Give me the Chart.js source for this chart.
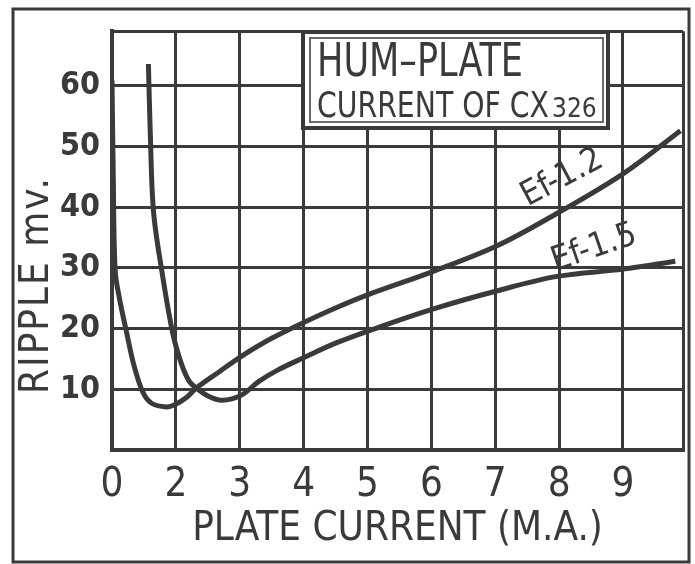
<!DOCTYPE html>
<html>
<head>
<meta charset="utf-8">
<script src="https://cdn.jsdelivr.net/npm/chart.js@4.4.0/dist/chart.umd.min.js"></script>
<style>
  html, body { margin: 0; padding: 0; background: #fff; }
</style>
</head>
<body>
<canvas id="humChart" width="695" height="564"></canvas>
<script>
// Plate current (mA). The axis line itself is lettered "0" on the original drawing.
const xTicks = [1, 2, 3, 4, 5, 6, 7, 8, 9];
const xTickLabels = ["0", "2", "3", "4", "5", "6", "7", "8", "9"];
const xMin = 1;
const xMax = 9.94;

// Ripple (mV)
const yTicks = [10, 20, 30, 40, 50, 60];
const yMin = 0;
const yMax = 69;

// Ef-1.2 curve
const ef12X = [1.00, 1.02, 1.05, 1.12, 1.23, 1.34, 1.48, 1.62, 1.85, 1.99, 2.16, 2.32, 2.68, 3.02, 3.50, 4.00, 4.50, 5.01, 6.02, 7.02, 7.97, 9.00, 9.90];
const ef12Y = [60.9, 45.0, 29.5, 24.8, 19.3, 14.1, 9.6, 7.7, 7.1, 7.5, 8.6, 10.2, 12.9, 15.4, 18.4, 21.0, 23.4, 25.6, 29.4, 33.6, 39.0, 45.5, 52.6];

// Ef-1.5 curve
const ef15X = [1.57, 1.60, 1.65, 1.78, 1.95, 2.09, 2.21, 2.32, 2.52, 2.72, 3.02, 3.30, 3.60, 4.00, 4.50, 5.01, 6.02, 7.02, 7.97, 9.00, 9.82];
const ef15Y = [63.6, 52.0, 39.3, 29.5, 19.3, 14.1, 11.3, 10.2, 8.8, 8.2, 9.0, 11.3, 13.2, 15.2, 17.6, 19.6, 23.2, 26.2, 28.6, 29.8, 31.1];

// curve labels, anchored in data units
const curveNames = ["Ef-1.2", "Ef-1.5"];
const curveLabelX = [8.05, 8.55];
const curveLabelY = [44.8, 33.2];

const INK = "#3a3a3a";
const FONT = "'DejaVu Sans Condensed', 'Liberation Sans Narrow', 'DejaVu Sans', sans-serif";

function toPoints(xs, ys) {
  return xs.map((x, i) => ({ x: x, y: ys[i] }));
}

// white paper, outer frame, title box, y title and curve labels
const paperPlugin = {
  id: "paper",
  beforeDraw(chart) {
    const ctx = chart.ctx;
    ctx.save();
    ctx.fillStyle = "#fff";
    ctx.fillRect(0, 0, chart.width, chart.height);
    ctx.restore();
  },
  afterDraw(chart) {
    const ctx = chart.ctx;
    const xs = chart.scales.x;
    const ys = chart.scales.y;
    ctx.save();

    // outer frame
    ctx.strokeStyle = INK;
    ctx.lineWidth = 3;
    ctx.strokeRect(13, 9, 676, 553);

    // title box
    ctx.fillStyle = "#fff";
    ctx.fillRect(303, 32, 305, 96);
    ctx.lineWidth = 4;
    ctx.strokeRect(303, 32, 305, 96);
    ctx.lineWidth = 1.5;
    ctx.strokeRect(310, 38, 293, 84);
    ctx.fillStyle = INK;
    ctx.textAlign = "left";
    ctx.textBaseline = "alphabetic";
    ctx.font = "46px " + FONT;
    ctx.fillText("HUM–PLATE", 317, 76, 206);
    ctx.font = "35px " + FONT;
    ctx.fillText("CURRENT OF CX", 317, 117, 232);
    ctx.font = "26px " + FONT;
    ctx.fillText("326", 552, 117, 48);

    // y axis title
    ctx.save();
    ctx.translate(38, 285);
    ctx.rotate(-Math.PI / 2);
    ctx.textAlign = "center";
    ctx.textBaseline = "middle";
    ctx.font = "40px " + FONT;
    ctx.letterSpacing = "2px";
    ctx.fillText("RIPPLE mv.", 0, 0);
    ctx.restore();

    // curve labels
    const angles = [-28, -19];
    ctx.font = "34px " + FONT;
    ctx.textAlign = "center";
    ctx.textBaseline = "middle";
    curveNames.forEach((name, i) => {
      ctx.save();
      ctx.translate(xs.getPixelForValue(curveLabelX[i]), ys.getPixelForValue(curveLabelY[i]));
      ctx.rotate(angles[i] * Math.PI / 180);
      ctx.fillText(name, 0, 0);
      ctx.restore();
    });

    ctx.restore();
  },
};

const ctx = document.getElementById("humChart").getContext("2d");
new Chart(ctx, {
  type: "line",
  data: {
    datasets: [
      {
        label: curveNames[0],
        data: toPoints(ef12X, ef12Y),
        borderColor: INK,
        borderWidth: 5,
        pointRadius: 0,
        tension: 0.35,
      },
      {
        label: curveNames[1],
        data: toPoints(ef15X, ef15Y),
        borderColor: INK,
        borderWidth: 5,
        pointRadius: 0,
        tension: 0.35,
      },
    ],
  },
  options: {
    responsive: false,
    animation: false,
    devicePixelRatio: 1,
    layout: { padding: { left: 0, right: 7, top: 10, bottom: 0 } },
    plugins: {
      legend: { display: false },
      tooltip: { enabled: false },
    },
    scales: {
      x: {
        type: "linear",
        min: xMin,
        max: xMax,
        afterBuildTicks: (axis) => {
          axis.ticks = xTicks.concat([xMax]).map((v) => ({ value: v }));
        },
        afterFit: (axis) => { axis.height = 114; },
        grid: { color: INK, lineWidth: 3, drawTicks: false },
        border: { color: INK, width: 4 },
        ticks: {
          color: INK,
          padding: 12,
          maxRotation: 0,
          autoSkip: false,
          font: { family: FONT, size: 40 },
          callback: (v) => {
            const i = xTicks.indexOf(v);
            return i >= 0 ? xTickLabels[i] : "";
          },
        },
        title: {
          display: true,
          text: "PLATE CURRENT (M.A.)",
          color: INK,
          font: { family: FONT, size: 40 },
          padding: { top: 0, bottom: 10 },
        },
      },
      y: {
        min: yMin,
        max: yMax,
        afterBuildTicks: (axis) => {
          axis.ticks = [yMin].concat(yTicks, [yMax]).map((v) => ({ value: v }));
        },
        afterFit: (axis) => { axis.width = 112; },
        grid: { color: INK, lineWidth: 3, drawTicks: false },
        border: { color: INK, width: 4 },
        ticks: {
          color: INK,
          padding: 12,
          font: { family: FONT, size: 32, weight: "bold" },
          callback: (v) => (yTicks.includes(v) ? String(v) : ""),
        },
      },
    },
  },
  plugins: [paperPlugin],
});
</script>
</body>
</html>
